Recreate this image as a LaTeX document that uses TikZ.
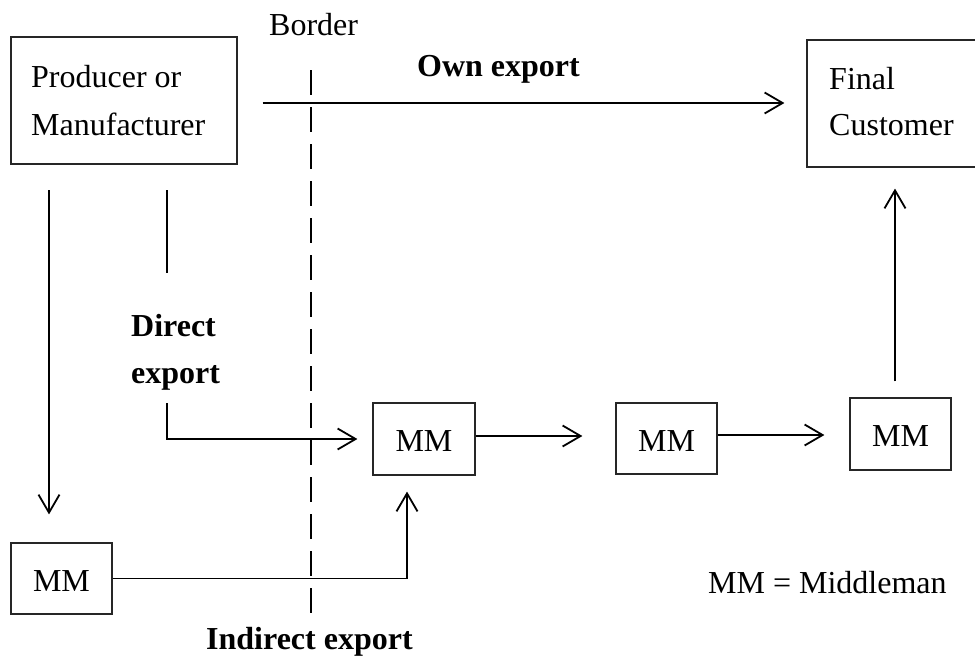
\documentclass[tikz,border=0pt]{standalone}
\usepackage{fontspec}
\setmainfont{Liberation Serif}
\usetikzlibrary{arrows.meta,calc}
\tikzset{
  boxnode/.style={draw=black!85, line width=1.2pt, rectangle, inner sep=0pt},
  txt/.style={anchor=base west, inner sep=0pt, font=\fontsize{32}{48}\selectfont},
  btxt/.style={txt, font=\fontsize{32}{48}\selectfont\bfseries},
  conn/.style={line width=1.8pt},
  arr/.style={conn, -{Straight Barb[length=18pt,width=21pt,line width=1.8pt]}},
  borderline/.style={line width=1.6pt, dash pattern=on 25pt off 12pt}
}
\begin{document}
\begin{tikzpicture}[x=1pt,y=-1pt]
  \useasboundingbox (0,0) rectangle (975,657);
  \clip (0,0) rectangle (975,657);

  % boxes
  \node[boxnode, minimum width=226pt, minimum height=127pt] (prod) at (124,100.5) {};
  \node[boxnode, minimum width=183pt, minimum height=127pt] (final) at (898.5,103.5) {};
  \node[boxnode, minimum width=101pt, minimum height=71pt] (mm1) at (61.5,578.5) {};
  \node[boxnode, minimum width=102pt, minimum height=72pt] (mm2) at (424,439) {};
  \node[boxnode, minimum width=101pt, minimum height=71pt] (mm3) at (666.5,438.5) {};
  \node[boxnode, minimum width=101pt, minimum height=72pt] (mm4) at (900.5,434) {};

  % box texts
  \node[txt] (prodA) at (31,87) {Producer or};
  \node[txt] (prodB) at (31,135) {Manufacturer};
  \node[txt] (finA) at (829,89) {Final};
  \node[txt] (finB) at (829,135) {Customer};
  \node[txt, anchor=center] (mm1t) at ([yshift=-2.5pt]mm1.center) {MM};
  \node[txt, anchor=center] (mm2t) at ([yshift=-2.5pt]mm2.center) {MM};
  \node[txt, anchor=center] (mm3t) at ([yshift=-2.5pt]mm3.center) {MM};
  \node[txt, anchor=center] (mm4t) at ([yshift=-2.5pt]mm4.center) {MM};

  % labels
  \node[txt] (border) at (269,35) {Border};
  \node[btxt] (own) at (417,76) {Own export};
  \node[btxt] (dirA) at (131,336) {Direct};
  \node[btxt] (dirB) at (131,383) {export};
  \node[btxt] (indir) at (206,649) {Indirect export};
  \node[txt] (legend) at (708,593) {MM = Middleman};

  % border line
  \coordinate (btop) at (311,70);
  \coordinate (bbot) at (311,622);
  \draw[borderline] (btop) -- (bbot);

  % own export
  \draw[arr, shorten <=25pt, shorten >=22pt] (prod.east |- 0,103) -- (final.west |- 0,103);

  % path down to the home-country middleman
  \coordinate (lstart) at (49,190);
  \draw[arr, shorten >=28pt] (lstart) -- (lstart |- mm1.north);

  % direct export
  \coordinate (dtop) at (167,190);
  \coordinate (dbot) at (167,273);
  \draw[conn] (dtop) -- (dbot);
  \coordinate (dstart) at (167,403);
  \draw[arr, shorten >=15pt] (dstart) |- (mm2.west);

  % indirect export
  \coordinate (ind) at ($(mm2.south)+(-17,0)$);
  \draw[arr, shorten >=16pt] (mm1.east) -| (ind);

  % chain of middlemen
  \draw[arr, shorten >=33pt] (mm2.east |- 0,436) -- (mm3.west |- 0,436);
  \draw[arr, shorten >=25pt] (mm3.east |- 0,435) -- (mm4.west |- 0,435);
  \draw[arr, shorten <=16pt, shorten >=21pt] (mm4.north -| 895,0) -- (final.south -| 895,0);
\end{tikzpicture}
\end{document}
